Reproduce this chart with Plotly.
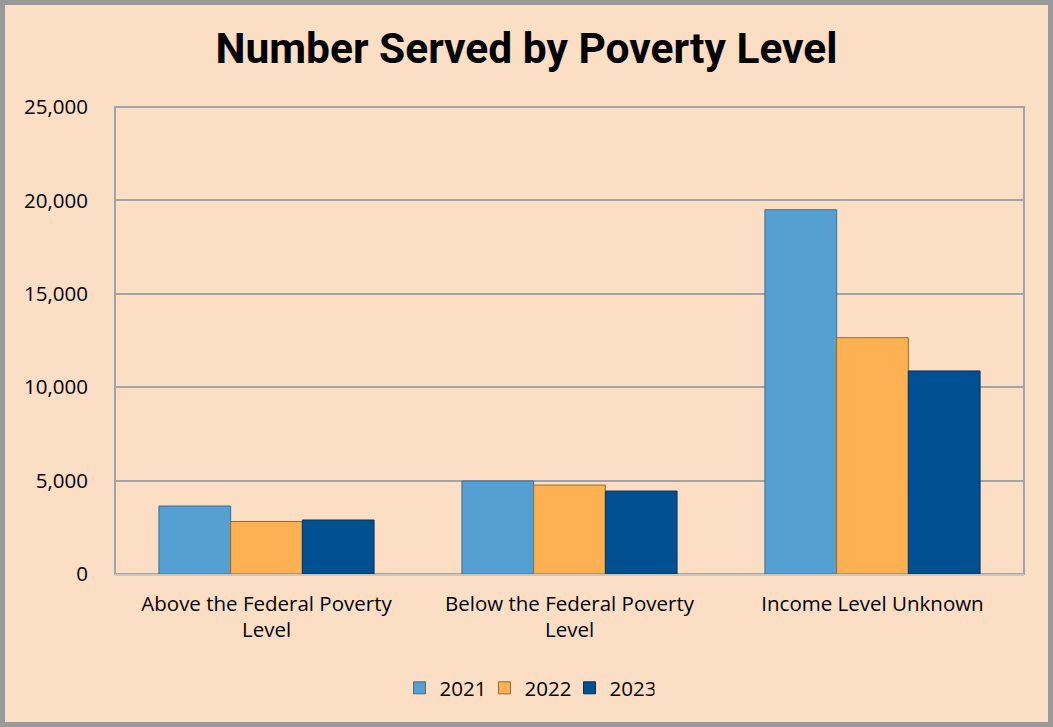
import plotly.graph_objects as go

categories = ["Above the Federal Poverty<br>Level", "Below the Federal Poverty<br>Level", "Income Level Unknown"]
years = ["2021", "2022", "2023"]
values_2021 = [3640, 4980, 19500]
values_2022 = [2810, 4760, 12650]
values_2023 = [2890, 4440, 10870]
colors = ["#559FD3", "#FDB153", "#015092"]
edge_colors = ["#3B6E93", "#9A6B2E", "#01335E"]
y_ticks = [0, 5000, 10000, 15000, 20000, 25000]

W, H = 1053, 727
L, R, T, B = 115, 29, 107, 153
pw, ph = W - L - R, H - T - B

fig = go.Figure()
for yr, vals, c, ec in zip(years, [values_2021, values_2022, values_2023], colors, edge_colors):
    fig.add_trace(go.Bar(name=yr, x=categories, y=vals,
                         marker=dict(color=c, line=dict(color=ec, width=1))))

bg = "#FCDEC5"
fig.update_layout(
    width=W, height=H,
    margin=dict(l=L, r=R, t=T, b=B),
    paper_bgcolor=bg, plot_bgcolor=bg,
    barmode="group", bargap=0.29, bargroupgap=0,
    title=dict(text="<b>Number Served by Poverty Level</b>", x=0.5, xanchor="center",
               y=1 - 48 / H, yanchor="middle",
               font=dict(family="Roboto", size=42.5, color="#000000")),
    font=dict(family="Open Sans", size=20.5, color="#000000"),
    legend=dict(orientation="h", x=(527 - L) / pw, xanchor="center", y=-(688 - 574) / ph, yanchor="middle",
                font=dict(size=20.5), bgcolor="rgba(0,0,0,0)", traceorder="normal",
                entrywidth=40, entrywidthmode="pixels"),
    xaxis=dict(showgrid=False, showline=True, linecolor="#C8C8C8", linewidth=2,
               ticks="", tickfont=dict(size=20.5)),
    yaxis=dict(range=[0, 25000], tickvals=y_ticks, tickformat=",", showgrid=True,
               gridcolor="#A0A4A8", gridwidth=2, zeroline=False, ticks="", ticklen=0,
               tickfont=dict(size=20.5), showline=False),
    shapes=[
        dict(type="rect", xref="paper", yref="paper", x0=0, y0=0, x1=1, y1=1,
             line=dict(color="#A0A4A8", width=2), layer="below"),
        dict(type="rect", xref="paper", yref="paper",
             x0=-(L - 2.5) / pw, x1=1 + (R - 2.5) / pw,
             y0=-(B - 2.5) / ph, y1=1 + (T - 2.5) / ph,
             line=dict(color="#999999", width=5), layer="above"),
    ],
)
fig.update_yaxes(ticklabelstandoff=26)
fig.update_xaxes(ticklabelstandoff=10)
fig.write_html("out.html", config={"displayModeBar": False},
               post_script="document.body.style.margin='0';document.body.style.overflow='hidden';")
